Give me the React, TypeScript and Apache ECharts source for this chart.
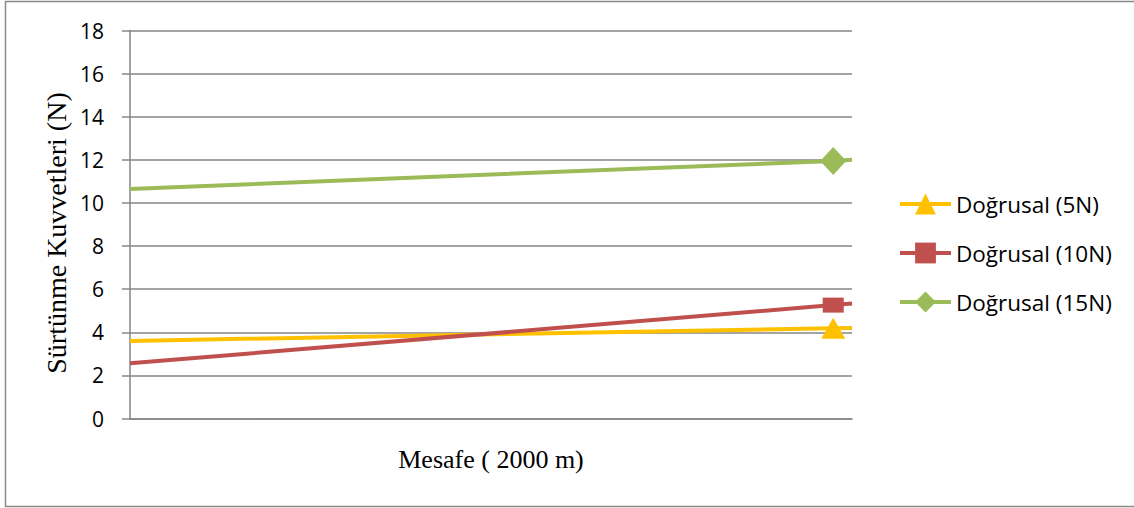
import React, { useEffect, useRef } from "react";
import * as echarts from "echarts";

const seriesNames = ["Doğrusal (5N)", "Doğrusal (10N)", "Doğrusal (15N)"];
const startValues = [3.6, 2.56, 10.65];
const markerValues = [4.19, 5.26, 11.95];
const endValues = [4.2, 5.33, 12.0];
const xStart = 0;
const xMarker = 0.974;
const xEnd = 1;
const colors = ["#FFC000", "#C0504D", "#9BBB59"];
const symbols = ["triangle", "rect", "diamond"];
const symbolSizes: any[] = [[24, 21], [21, 15], [26, 28]];
const yTicks = [0, 2, 4, 6, 8, 10, 12, 14, 16, 18];
const yTitle = "Sürtünme Kuvvetleri (N)";
const xTitle = "Mesafe ( 2000 m)";

const SANS = "'Open Sans', sans-serif";
const SERIF = "'Liberation Serif', 'Times New Roman', serif";

export default function App() {
  const ref = useRef<HTMLDivElement>(null);
  useEffect(() => {
    document.body.style.margin = "0";
    const chart = echarts.init(ref.current!, undefined, { renderer: "svg" });
    const series = seriesNames.map((name, i) => ({
      name,
      type: "line",
      symbol: symbols[i],
      symbolSize: symbolSizes[i],
      lineStyle: { color: colors[i], width: 4 },
      itemStyle: { color: colors[i] },
      data: [
        { value: [xStart, startValues[i]], symbol: "none" },
        { value: [xMarker, markerValues[i]] },
        { value: [xEnd, endValues[i]], symbol: "none" },
      ],
      z: 3 + i,
    }));
    chart.setOption({
      animation: false,
      backgroundColor: "#ffffff",
      grid: { left: 130, top: 30.5, width: 722, height: 388, containLabel: false },
      xAxis: {
        type: "value",
        min: 0,
        max: 1,
        name: xTitle,
        nameLocation: "middle",
        nameGap: 28,
        nameTextStyle: { fontFamily: SERIF, fontSize: 26, color: "#000", verticalAlign: "top" },
        axisLine: { show: true, lineStyle: { color: "#868686", width: 1.5 } },
        axisTick: { show: false },
        axisLabel: { show: false },
        splitLine: { show: false },
      },
      yAxis: {
        type: "value",
        min: yTicks[0],
        max: yTicks[yTicks.length - 1],
        interval: 2,
        axisLine: { show: true, lineStyle: { color: "#868686", width: 1.5 } },
        axisTick: { show: true, length: 8, lineStyle: { color: "#868686", width: 1.5 } },
        axisLabel: { margin: 26, fontSize: 21, color: "#000", fontFamily: SANS },
        splitLine: { show: true, lineStyle: { color: "#868686", width: 1.5 } },
      },
      legend: {
        orient: "vertical",
        left: 893,
        top: 186,
        itemWidth: 51,
        itemHeight: 26,
        itemGap: 23,
        itemStyle: { borderWidth: 0 },
        lineStyle: { width: 4 },
        textStyle: { fontSize: 22.5, color: "#000", fontFamily: SANS, lineHeight: 26 },
        data: seriesNames,
      },
      graphic: [
        {
          type: "rect",
          shape: { x: 5.5, y: 1.5, width: 1140, height: 505 },
          style: { fill: "none", stroke: "#898989", lineWidth: 1.5 },
          silent: true,
        },
        {
          type: "text",
          x: 56,
          y: 233,
          rotation: Math.PI / 2,
          style: {
            text: yTitle,
            fontFamily: SERIF,
            fontSize: 28,
            fill: "#000",
            align: "center",
            verticalAlign: "middle",
          },
          silent: true,
        },
      ],
      series,
    });
    return () => chart.dispose();
  }, []);
  return <div ref={ref} style={{ width: 1134, height: 508 }} />;
}
